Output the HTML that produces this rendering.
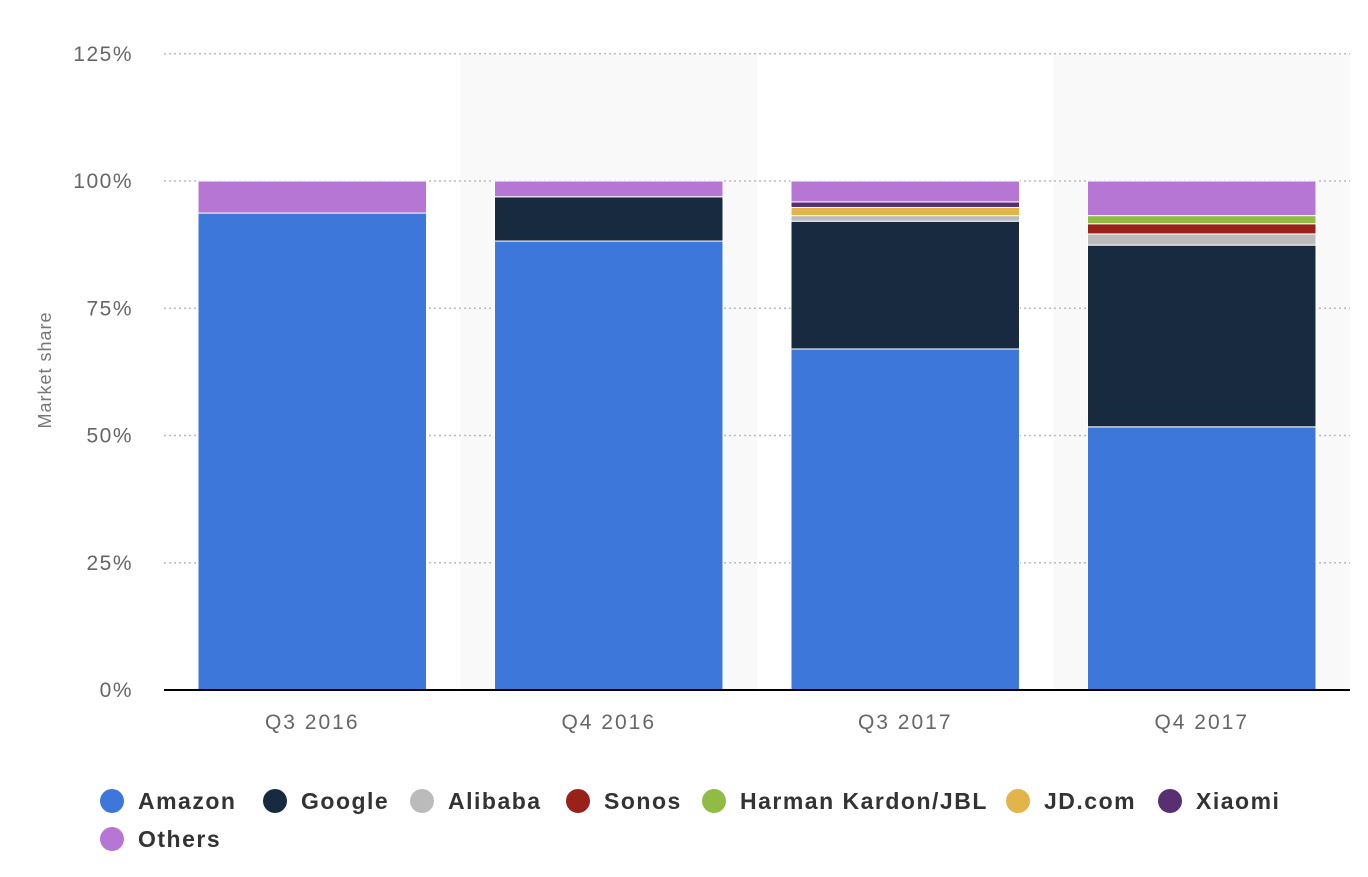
<!DOCTYPE html>
<html><head><meta charset="utf-8"><style>
body{margin:0;background:#fff;font-family:"Liberation Sans",sans-serif;}
svg text{font-family:"Liberation Sans",sans-serif;}
</style></head><body>
<svg id="chart" width="1368" height="872" xmlns="http://www.w3.org/2000/svg">
<g id="bands"></g><g id="grid"></g><g id="bars"></g><g id="axes"></g><g id="legend"></g>
</svg>
<script>
const categories = ["Q3 2016","Q4 2016","Q3 2017","Q4 2017"];
const seriesNames = ["Amazon","Google","Alibaba","Sonos","Harman Kardon/JBL","JD.com","Xiaomi","Others"];
const amazon = [93.7, 88.2, 67.0, 51.7];
const google = [0, 8.7, 25.1, 35.7];
const alibaba = [0, 0, 1.1, 2.2];
const sonos = [0, 0, 0, 2.0];
const harman = [0, 0, 0, 1.6];
const jd = [0, 0, 1.6, 0];
const xiaomi = [0, 0, 1.1, 0];
const others = [6.3, 3.1, 4.1, 6.8];
const yTicks = [0,25,50,75,100,125];
const colors = ["#3c77d9","#182a40","#bbbbbb","#9a211a","#90bc44","#e3b44a","#5a2e72","#b677d4"];
const series = [amazon,google,alibaba,sonos,harman,jd,xiaomi,others];
const NS="http://www.w3.org/2000/svg";
const x0=164,x1=1350,y0=690,pxPer=5.09;
const band=(x1-x0)/categories.length;
const yS=v=>y0-v*pxPer;
const xS=i=>x0+i*band;
function mk(tag,attrs,parent){const e=document.createElementNS(NS,tag);for(const k in attrs)e.setAttribute(k,attrs[k]);parent.appendChild(e);return e;}
const gB=document.getElementById('bands'),gG=document.getElementById('grid'),gBar=document.getElementById('bars'),gA=document.getElementById('axes'),gL=document.getElementById('legend');
categories.forEach((c,i)=>{if(i%2===1){const r=mk('rect',{x:xS(i),y:yS(125),width:band,height:y0-yS(125),fill:'#f9f9f9'},gB);

}});
yTicks.forEach(t=>{const y=yS(t);
if(t>0){const l=mk('line',{x1:x0,x2:x1,y1:y,y2:y,stroke:'#bbb','stroke-width':1.5,'stroke-dasharray':'2,3'},gG);

}
const tx=mk('text',{x:133,y:y+7,'text-anchor':'end','font-size':21,fill:'#666','letter-spacing':'1.5'},gA);tx.textContent=t+'%';

});
categories.forEach((c,i)=>{let acc=0;const bx=xS(i)+34,bw=band-68;
series.forEach((s,j)=>{const v=s[i];if(v<=0)return;const top=yS(acc+v),bot=yS(acc);
const r=mk('rect',{x:bx,y:top,width:bw,height:bot-top,fill:colors[j],stroke:'#fff','stroke-width':1},gBar);


acc+=v;});
const tx=mk('text',{x:xS(i)+band/2,y:729,'text-anchor':'middle','font-size':21,fill:'#666','letter-spacing':'2'},gA);tx.textContent=c;

});
const base=mk('line',{x1:x0,x2:x1,y1:y0,y2:y0,stroke:'#000','stroke-width':2},gA);


const yt=mk('text',{x:51,y:370,'text-anchor':'middle','font-size':18,fill:'#777','letter-spacing':'1',transform:'rotate(-90 51 370)'},gA);yt.textContent='Market share';


const legX=[112,275,422,578,714,1018,1170,112],legY=[801,801,801,801,801,801,801,839];
seriesNames.forEach((n,j)=>{const g=mk('g',{},gL);


mk('circle',{cx:legX[j],cy:legY[j],r:12,fill:colors[j]},g);
const t=mk('text',{x:legX[j]+26,y:legY[j]+8,'font-size':23,'font-weight':'bold',fill:'#333','letter-spacing':'1.5'},g);t.textContent=n;});
</script>
</body></html>
